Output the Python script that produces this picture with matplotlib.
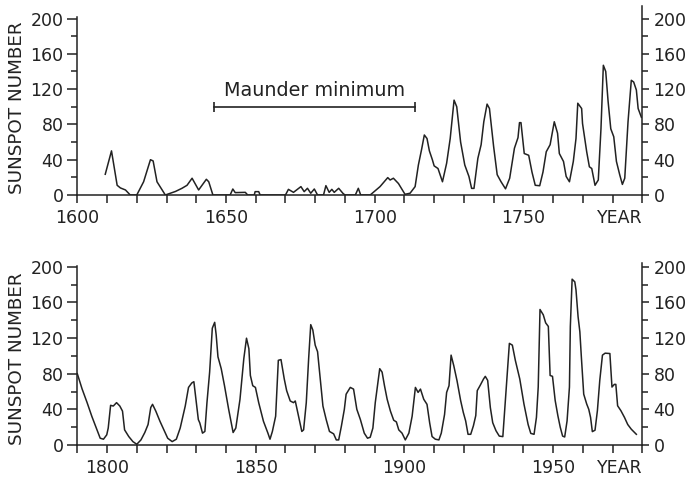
import matplotlib
matplotlib.use('Agg')
import matplotlib.pyplot as plt
from matplotlib.ticker import FixedLocator

# ---------------- data ----------------
top_years = [1609.4, 1611.5, 1613.4, 1614.5, 1616.2, 1617.8, 1620.0, 1622.3, 1624.6, 1625.5,
             1626.8, 1629.6, 1631.3, 1633.0, 1635.2, 1636.9, 1638.6, 1640.8, 1643.4, 1644.2,
             1645.6, 1651.4, 1652.3, 1653.1, 1656.5, 1657.3, 1659.5, 1659.8, 1661.0, 1661.5,
             1670.0, 1671.0, 1672.7, 1675.2, 1676.3, 1677.4, 1678.5, 1679.7, 1680.8, 1682.8,
             1683.6, 1684.7, 1685.6, 1686.4, 1687.9, 1689.3, 1690.0, 1693.5, 1694.5, 1695.3,
             1698.5, 1701.8, 1704.4, 1705.2, 1706.3, 1708.0, 1710.2, 1711.9, 1713.6, 1714.7,
             1715.8, 1716.7, 1717.6, 1718.4, 1719.4, 1720.0, 1721.3, 1722.8, 1724.2, 1725.4,
             1726.7, 1727.6, 1728.9, 1730.3, 1731.7, 1732.6, 1733.4, 1734.7, 1735.8, 1736.7,
             1737.8, 1738.6, 1740.0, 1741.2, 1742.5, 1744.0, 1745.4, 1747.0, 1748.2, 1748.7,
             1749.2, 1750.3, 1751.8, 1752.9, 1754.0, 1755.5, 1756.6, 1757.7, 1759.0, 1760.4,
             1761.5, 1762.1, 1763.5, 1764.4, 1765.5, 1766.8, 1767.7, 1768.3, 1769.6, 1769.9,
             1771.3, 1772.2, 1773.0, 1774.1, 1775.2, 1776.1, 1776.9, 1777.7, 1778.5, 1779.4,
             1780.4, 1781.3, 1782.4, 1783.3, 1784.1, 1785.2, 1786.3, 1787.1, 1788.0, 1788.6,
             1789.7]
top_values = [23.5, 50, 11, 8, 5.7, 0, 0, 15, 40, 38.6,
              15, 0, 2, 4, 7.6, 11, 19, 5.7, 17.8, 15,
              0, 0, 6.8, 2.7, 3, 0, 0, 3.8, 3.8, 0,
              0, 6.4, 3, 9.5, 3.8, 7.6, 2, 6.8, 0, 0,
              10.6, 3, 6.4, 3, 7.6, 2, 0, 0, 7.6, 0,
              0, 9.5, 19.7, 17, 19, 13, 0.8, 2, 9.5, 34,
              52, 68, 64, 50, 40, 33, 30, 15, 36, 64,
              107.5, 100, 60, 34, 21, 7.5, 7.5, 41.5, 57, 83,
              103, 98, 55, 23, 15, 7, 19, 53, 65, 82,
              82, 47, 45, 26, 11, 10.5, 26, 49, 57, 83,
              70, 47, 38, 21, 15, 38, 64, 104, 98, 81,
              49, 32, 30, 11, 17, 75, 147, 140, 106, 75,
              66, 38, 23, 12, 19, 83, 130, 128, 119, 98,
              88]

bottom_years = [1790.0, 1791.6, 1793.3, 1794.9, 1796.6, 1797.7, 1798.8, 1799.9, 1800.4, 1801.2,
                1802.1, 1803.2, 1804.3, 1805.2, 1805.9, 1807.3, 1808.7, 1810.0, 1811.4, 1812.7,
                1813.8, 1814.7, 1815.3, 1816.4, 1817.8, 1819.1, 1820.4, 1821.9, 1823.3, 1824.6,
                1826.3, 1827.4, 1828.5, 1829.2, 1829.9, 1830.7, 1831.2, 1832.1, 1832.9, 1833.6,
                1834.5, 1835.4, 1836.2, 1836.7, 1837.3, 1838.4, 1839.5, 1840.9, 1842.4, 1843.3,
                1844.7, 1846.0, 1846.9, 1847.7, 1848.2, 1849.0, 1849.9, 1851.0, 1852.6, 1854.1,
                1854.8, 1855.6, 1856.7, 1857.6, 1858.5, 1859.6, 1860.4, 1861.6, 1862.7, 1863.3,
                1864.4, 1865.5, 1866.1, 1867.0, 1867.8, 1868.5, 1869.2, 1870.0, 1870.8, 1871.7,
                1872.6, 1873.7, 1874.8, 1876.2, 1877.1, 1877.9, 1878.8, 1879.8, 1880.4, 1881.8,
                1882.9, 1884.0, 1885.2, 1886.5, 1887.6, 1888.5, 1889.4, 1890.2, 1891.7, 1892.5,
                1893.3, 1894.2, 1895.3, 1896.4, 1897.3, 1898.1, 1899.2, 1900.3, 1901.5, 1902.6,
                1903.7, 1904.6, 1905.4, 1906.5, 1907.6, 1908.5, 1909.3, 1910.4, 1911.6, 1912.4,
                1913.5, 1914.2, 1915.0, 1915.7, 1916.6, 1917.7, 1918.9, 1919.8, 1920.6, 1921.4,
                1922.3, 1923.2, 1924.0, 1924.5, 1925.5, 1926.6, 1927.2, 1928.0, 1928.9, 1929.7,
                1930.8, 1931.9, 1933.1, 1934.2, 1935.3, 1936.3, 1937.3, 1938.8, 1940.2, 1941.6,
                1942.5, 1943.6, 1944.4, 1945.0, 1945.6, 1946.7, 1947.5, 1948.4, 1949.0, 1949.8,
                1950.7, 1951.6, 1952.4, 1953.2, 1953.9, 1954.7, 1955.5, 1955.8, 1956.4, 1957.3,
                1957.7, 1958.4, 1959.0, 1959.5, 1960.3, 1961.3, 1962.0, 1962.6, 1963.2, 1964.1,
                1964.9, 1965.7, 1966.6, 1967.5, 1969.1, 1969.8, 1970.6, 1971.1, 1971.7, 1972.8,
                1974.0, 1975.1, 1976.3, 1978.0]
bottom_values = [80, 63, 47.5, 32, 17, 7.6, 6.5, 11.4, 19, 44.5,
                 43.7, 47.5, 43.7, 38, 17, 9.5, 3.8, 0.8, 5.7, 14,
                 23, 42, 45.6, 38, 26.6, 17, 7.6, 3.8, 6.5, 19,
                 43.7, 64.6, 69.6, 71, 51, 28.5, 24.7, 13.3, 15.2, 47.5,
                 81.7, 131, 137.6, 123.6, 98.9, 85.6, 66.5, 40, 14, 19,
                 51, 97, 119.8, 108, 78, 66.5, 64.6, 47.5, 26.6, 13.3,
                 6.5, 15.2, 32.3, 95, 95.8, 74, 61, 49.4, 47.5, 49.4,
                 32.3, 15.2, 17, 47.5, 97, 135, 129, 112, 104.6, 74,
                 43.7, 28.5, 15.2, 12.5, 5.7, 5.7, 21, 40, 57, 64.6,
                 62.7, 40, 28.5, 13.3, 7.6, 8.7, 19, 47.5, 85.6, 81.7,
                 66.5, 51.3, 38, 27.8, 25.9, 17, 13.3, 5.7, 13.3, 32.3,
                 64.6, 59, 62.7, 51.3, 45.6, 24.7, 9.5, 6.5, 5.7, 13.3,
                 34.2, 59, 66.5, 100.8, 89, 72, 50, 36.6, 27, 12,
                 12, 21.5, 33, 61, 67, 74, 77, 72.5, 42, 25,
                 16, 10, 9.4, 61, 114, 112, 95, 74, 46, 23,
                 13, 12, 31, 65, 152, 146, 137, 133, 78, 77,
                 50, 33, 20, 10, 9, 27, 65, 133, 186, 183,
                 174, 144, 127, 99, 57, 46, 40, 31, 15, 16.6,
                 38.5, 72.5, 100.8, 103, 102.6, 65, 68, 68, 44, 38.5,
                 31, 23, 17.7, 12]

top_label_years = [1600, 1650, 1700, 1750, 1790]
top_label_texts = ['1600', '1650', '1700', '1750', 'YEAR']
bottom_label_years = [1800, 1850, 1900, 1950, 1980]
bottom_label_texts = ['1800', '1850', '1900', '1950', 'YEAR']
y_major = [0, 40, 80, 120, 160, 200]
y_minor = [20, 60, 100, 140, 180]
maunder_start, maunder_end, maunder_level = 1646, 1713.5, 100
maunder_text = 'Maunder minimum'

# ---------------- styling ----------------
INK = '#222222'
FS = 12.5
plt.rcParams['font.family'] = ['DejaVu Sans']

W, H = 691, 479
fig = plt.figure(figsize=(W / 100, H / 100), dpi=100)


def make_panel(rect, x0, x1, ymax, left_top, years, values, lab_years, lab_texts):
    ax = fig.add_axes(rect)
    ax.set_xlim(x0, x1)
    ax.set_ylim(0, ymax)
    ax.plot(years, values, color=INK, lw=1.1, solid_joinstyle='round')
    for s in ['top', 'right']:
        ax.spines[s].set_visible(False)
    for s in ['left', 'bottom']:
        ax.spines[s].set_linewidth(1.1)
        ax.spines[s].set_color(INK)
    ax.spines['left'].set_bounds(0, left_top)

    ticks = list(range(x0, x1 + 1, 10))
    labels = [lab_texts[lab_years.index(t)] if t in lab_years else '' for t in ticks]
    ax.xaxis.set_major_locator(FixedLocator(ticks))
    tl = ax.set_xticklabels(labels)
    tl[-1].set_horizontalalignment('right')
    ax.tick_params(axis='x', direction='out', length=6, width=1.1, pad=4,
                   labelsize=FS, colors=INK)

    ax.yaxis.set_major_locator(FixedLocator(y_major))
    ax.yaxis.set_minor_locator(FixedLocator(y_minor))
    ax.tick_params(axis='y', which='major', direction='out', length=7, width=1.1,
                   pad=3, labelsize=FS, colors=INK)
    ax.tick_params(axis='y', which='minor', direction='out', length=4.5, width=1.1,
                   colors=INK)

    ax2 = ax.twinx()
    ax2.set_ylim(0, ymax)
    for s in ['top', 'left', 'bottom']:
        ax2.spines[s].set_visible(False)
    ax2.spines['right'].set_linewidth(1.1)
    ax2.spines['right'].set_color(INK)
    ax2.yaxis.set_major_locator(FixedLocator(y_major))
    ax2.yaxis.set_minor_locator(FixedLocator(y_minor))
    ax2.tick_params(axis='y', which='major', direction='out', length=5, width=1.1,
                    pad=3, labelsize=FS, colors=INK)
    ax2.tick_params(axis='y', which='minor', direction='out', length=4, width=1.1,
                    colors=INK)
    return ax


left = 77.3 / W
width = 565.0 / W
# top panel: zero at y=195 px, 0.8825 px per unit, ylim 0..214
top_h = 214 * 0.8825 / H
ax_top = make_panel([left, (H - 195) / H, width, top_h], 1600, 1790, 214, 202,
                    top_years, top_values, top_label_years, top_label_texts)
# bottom panel: zero at y=445 px, 0.8915 px per unit, ylim 0..204
bot_h = 204 * 0.8915 / H
ax_bot = make_panel([left, (H - 445) / H, width, bot_h], 1790, 1980, 204, 201,
                    bottom_years, bottom_values, bottom_label_years, bottom_label_texts)

# Maunder minimum bracket
ax_top.plot([maunder_start, maunder_end], [maunder_level, maunder_level], color=INK, lw=1.2)
ax_top.vlines([maunder_start, maunder_end], maunder_level - 5.5, maunder_level + 5.5,
              color=INK, lw=1.2)
ax_top.text((maunder_start + maunder_end) / 2, 112, maunder_text, ha='center',
            va='baseline', fontsize=13.8, color=INK)

# y-axis labels
fig.text(16.7 / W, 1 - 108 / H, 'SUNSPOT NUMBER', rotation=90, ha='center', va='center',
         fontsize=13.2, color=INK)
fig.text(16.7 / W, 1 - 359 / H, 'SUNSPOT NUMBER', rotation=90, ha='center', va='center',
         fontsize=13.2, color=INK)

fig.savefig('out.png', dpi=100, facecolor='white')
